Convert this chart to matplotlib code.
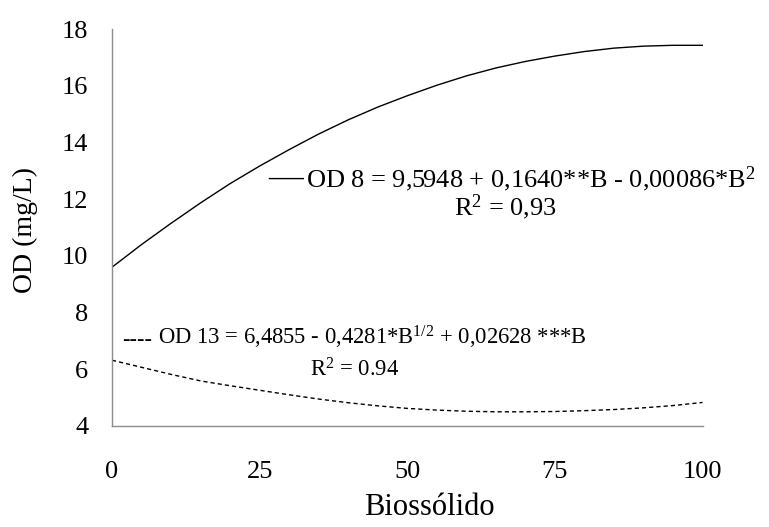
import matplotlib.pyplot as plt

plt.rcParams['font.family'] = ['Liberation Serif', 'DejaVu Serif']
plt.rcParams['mathtext.fontset'] = 'custom'
plt.rcParams['mathtext.rm'] = 'Liberation Serif'
plt.rcParams['mathtext.it'] = 'Liberation Serif:italic'

# -----------------------------
# values
# -----------------------------
B = [0, 5, 10, 15, 20, 25, 30, 35, 40, 45, 50, 55, 60, 65, 70, 75, 80, 85, 90, 95, 100]
OD8 = [9.6, 10.4, 11.15, 11.87, 12.55, 13.17, 13.75, 14.3, 14.8, 15.25, 15.65,
       16.02, 16.35, 16.63, 16.86, 17.05, 17.21, 17.33, 17.4, 17.43, 17.43]
OD13 = [6.32, 6.07, 5.82, 5.59, 5.42, 5.26, 5.10, 4.95, 4.82, 4.71, 4.62, 4.56, 4.52,
        4.50, 4.50, 4.51, 4.54, 4.58, 4.64, 4.72, 4.83]

X_TICKS = [0, 25, 50, 75, 100]
Y_TICKS = [4, 6, 8, 10, 12, 14, 16, 18]

EQ_OD8 = "OD 8 = 9,5948 + 0,1640**B - 0,00086*B$^{2}$"
R2_OD8 = "R$^{2}$ = 0,93"
EQ_OD13 = "OD 13 = 6,4855 - 0,4281*B$^{1/2}$ + 0,02628 ***B"
R2_OD13 = "R$^{2}$ = 0.94"

fig = plt.figure(figsize=(7.69, 5.27), dpi=100)
ax = fig.add_axes([0.1456, 0.1917, 0.768, 0.753])

ax.plot(B, OD8, color='black', lw=1.0)
ax.plot(B, OD13, color='black', lw=1.0, ls=(0, (3, 2.2)))

ax.set_xlim(0, 100)
ax.set_ylim(4, 18)
ax.set_xticks(X_TICKS)
ax.set_yticks(Y_TICKS)
ax.tick_params(length=0, labelsize=19)
ax.tick_params(axis='x', pad=25)
ax.tick_params(axis='y', pad=17)

for side in ['top', 'right']:
    ax.spines[side].set_visible(False)
for side in ['left', 'bottom']:
    ax.spines[side].set_color('#8c8c8c')
    ax.spines[side].set_linewidth(1.0)

ax.set_xlabel("Biossólido", fontsize=22)
ax.xaxis.set_label_coords(0.538, -0.205)
ax.xaxis.label.set_va('center')
ax.set_ylabel("OD (mg/L)", fontsize=20)
ax.yaxis.set_label_coords(-0.147, 0.494)
ax.yaxis.label.set_va('center')

# equation labels
ax.text(32.3, 12.45, "\u2014", fontsize=25, va='baseline', ha='right')
ax.text(32.9, 12.42, EQ_OD8, fontsize=19, va='baseline', ha='left')
ax.text(66.7, 11.44, R2_OD8, fontsize=19, va='baseline', ha='center')
ax.text(1.8, 6.86, "----", fontsize=16, va='baseline', ha='left', fontweight='bold')
ax.text(7.8, 6.86, EQ_OD13, fontsize=16.3, va='baseline', ha='left')
ax.text(41.1, 5.73, R2_OD13, fontsize=16.3, va='baseline', ha='center')

fig.savefig("out.png", dpi=100)
